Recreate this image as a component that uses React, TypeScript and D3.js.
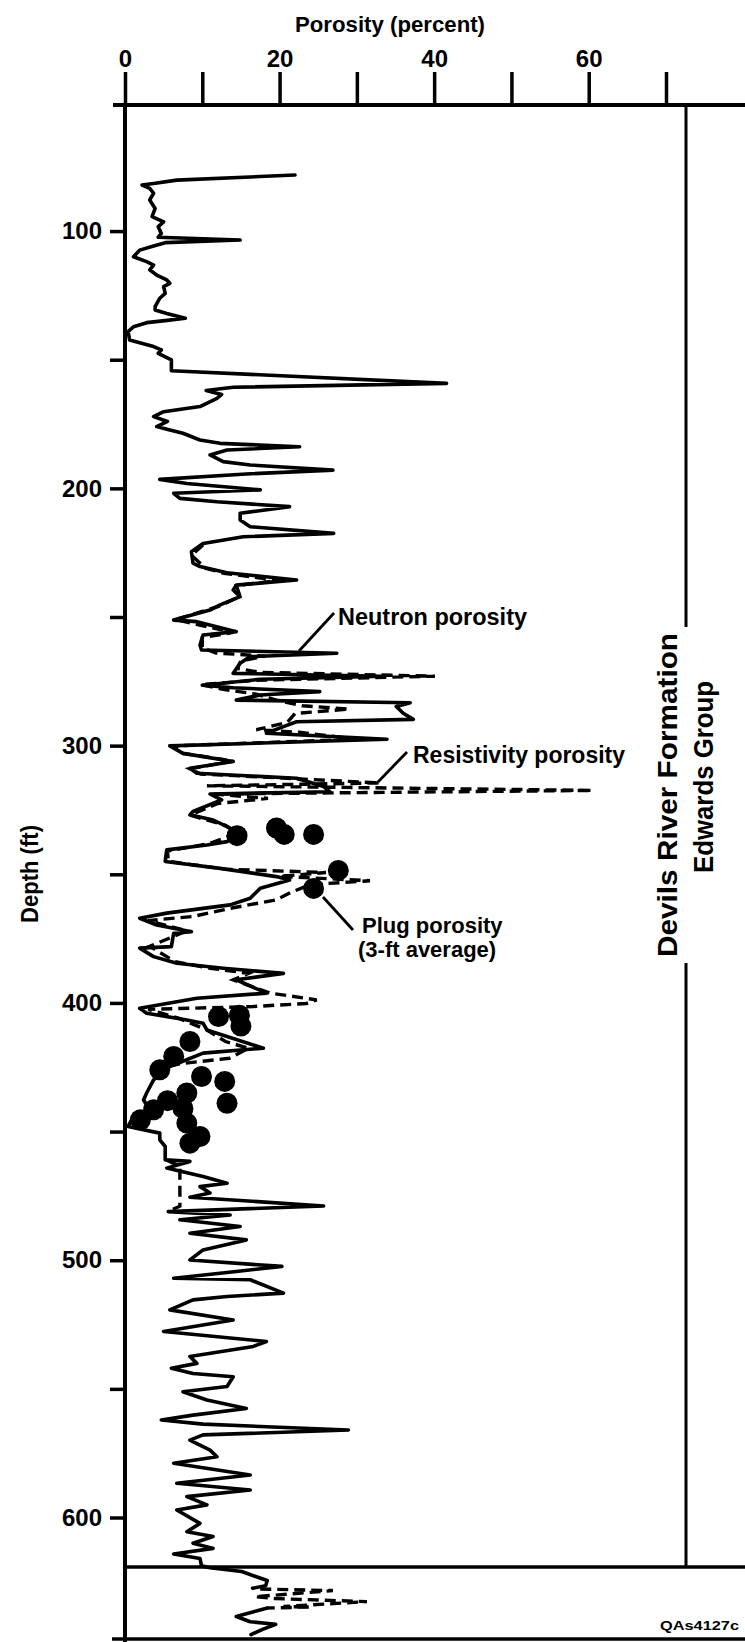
import React, { useEffect, useRef } from 'react';
import * as d3 from 'd3';

// ---- data (depth in ft, porosity in percent) ----
const POROSITY_TICKS = [0, 10, 20, 30, 40, 50, 60, 70];
const POROSITY_LABELS = [0, 20, 40, 60];
const DEPTH_TICKS = [100, 150, 200, 250, 300, 350, 400, 450, 500, 550, 600];
const DEPTH_LABELS = [100, 200, 300, 400, 500, 600];

// Neutron porosity log: [depth, porosity]
const NEUTRON: [number, number][] = [
  [78.2, 22.0], [80.2, 6.7], [81.5, 3.7], [82.1, 2.2], [83.4, 3.2], [85.3, 3.7], [87.9, 3.2], [91.2, 3.9],
  [94.4, 3.5], [96.4, 5.0], [98.3, 4.3], [100.9, 4.7], [102.4, 4.3], [103.5, 14.9], [104.5, 5.2], [105.8, 3.7],
  [107.4, 1.9], [110, 1.1], [111.9, 2.8], [113.2, 3.7], [115.1, 3.2], [117.1, 4.1], [119, 5.4], [120.3, 5.8],
  [121.6, 5.0], [124.2, 5.2], [126.1, 4.5], [129.4, 3.9], [130.7, 3.9], [132, 5.4], [133.9, 7.8], [134.8, 5.2],
  [135.6, 2.8], [137.2, 1.1], [139.1, 0.4], [142.3, 0.6], [143.4, 1.9], [144.9, 3.7], [146.2, 4.7], [147.5, 4.3],
  [150.1, 6.0], [154.3, 6.0], [159.2, 41.6], [160.7, 14.0], [162, 10.5], [163.5, 12.5], [165, 11.9], [168.2, 9.7],
  [170.2, 5.0], [172.1, 3.7], [174, 5.5], [176, 4.1], [177.3, 5.8], [178.6, 7.5], [181.2, 9.7], [182.5, 12.3],
  [183.8, 22.6], [185.1, 13.2], [187, 11.0], [189.6, 12.7], [190.9, 16.2], [192.9, 26.9], [194.4, 15.7], [196.5, 4.5],
  [198.1, 8.0], [200.6, 17.5], [201.9, 6.3], [203.9, 7.1], [205.2, 11.9], [207.1, 21.3], [209.7, 14.9], [212.3, 14.9],
  [214.9, 16.2], [217.5, 27.0], [218.8, 15.3], [221.4, 10.1], [224.6, 8.6], [229.1, 8.8], [230.4, 9.7], [232.8, 13.2],
  [235.6, 22.2], [237.6, 14.4], [239.5, 14.0], [242.1, 14.9], [245.3, 12.3], [247.3, 11.0], [251.2, 6.3], [251.8, 9.3],
  [255.7, 14.4], [257, 10.1], [260.9, 9.7], [262.8, 9.9], [264.1, 27.4], [265.4, 16.2], [268, 14.9], [271.9, 14.0],
  [273, 33.4], [274.2, 17.5], [276.5, 10], [277.5, 14], [279, 25.2], [280.3, 17.5], [282.3, 14.4], [283.3, 36.9],
  [284.8, 35.1], [287.4, 36.0], [289.8, 37.3], [290.7, 22.2], [292.6, 20.5], [295.2, 18.3], [297.5, 33.9], [300.1, 5.8],
  [303, 7.5], [306.2, 14.0], [308.8, 8.4], [310.7, 9.3], [312.7, 22.2], [315.9, 25.7], [317.9, 26.5], [318.8, 11.0],
  [321.1, 12.5], [325.6, 8.8], [326.9, 8.4], [328.9, 11.4], [331.5, 13.2], [334.1, 14.9], [337.3, 13.2], [338.6, 10.6],
  [340.5, 5.4], [345, 5.2], [347.7, 12.3], [350.9, 19.6], [352.2, 21.3], [355.4, 17.5], [359.3, 16.2], [361.9, 13.6],
  [365.1, 5.4], [367.1, 1.9], [369.7, 4.1], [372.3, 8.6], [372.9, 6.3], [378.1, 6.0], [378.7, 1.9], [382, 3.7],
  [384.6, 6.7], [386.5, 12.7], [388.5, 20.5], [391, 14.4], [396.2, 18.3], [398.2, 9.3], [402.1, 1.9], [404, 2.8],
  [406.6, 8.0], [407.9, 10.1], [410.5, 10.6], [417.6, 17.9], [419.5, 10.1], [424.7, 5.8], [429.9, 3.7], [435, 2.8],
  [437.7, 2.4], [441.5, 3.2], [444.1, 1.1], [448, 0.4], [450.6, 4.5], [453.2, 4.5], [455.8, 5.2], [461, 5.2],
  [461.6, 8.4], [464.2, 5.4], [467.5, 10.1], [470.1, 13.2], [471.4, 9.7], [473.9, 11.0], [475.5, 8.4], [478.9, 25.7],
  [481.1, 5.6], [482.4, 13.6], [484.3, 7.1], [486.9, 14.9], [489.5, 8.4], [492.1, 15.7], [496, 10.1], [499.9, 8.4],
  [502.4, 20.3], [504.4, 14.4], [507, 6.3], [507.6, 16.2], [512.8, 20.5], [514.1, 13.2], [515.4, 8.8], [519.3, 5.8],
  [523.2, 14.0], [527.7, 5.0], [531.6, 18.3], [533.5, 16.6], [537.4, 8.4], [540.1, 9.3], [542, 6.0], [544, 8.8],
  [545.3, 14.0], [549.1, 13.2], [551.1, 7.5], [554.3, 10.6], [557.6, 15.7], [560.2, 8.8], [562.1, 4.7], [563.7, 10.1],
  [566, 28.9], [567.9, 10.1], [569.9, 8.4], [573.8, 11.0], [576.4, 11.9], [578.9, 6.3], [583.5, 16.2], [586.7, 6.7],
  [589.3, 16.2], [591.9, 8.0], [595.1, 10.6], [597.1, 6.7], [602.3, 9.7], [605.5, 8.0], [607.4, 11.4], [610, 8.8],
  [612, 11.4], [614.2, 6.3], [615.9, 9.7], [618.8, 9.9], [619.5, 11], [621, 15.1], [623, 17], [624.5, 18.4],
  [626.5, 18.2], [627.5, 16.5],
];

// Neutron porosity below the lower boundary
const NEUTRON_BASE: [number, number][] = [
  [635.3, 18.3], [638.5, 14.4], [640.5, 16.2], [641.5, 19.5], [643.5, 17.8], [645.5, 16.3],
];

// Resistivity porosity log: [depth, porosity]
const RESISTIVITY: [number, number][] = [
  [222, 10.1], [226, 8.6], [231, 10.4], [233, 12.8], [235.8, 20], [237.8, 14.4], [242, 14.9], [246, 12],
  [251, 6.5], [253, 9.5], [256, 14], [258, 10], [262, 10], [264, 11.8], [265.2, 18.2], [267, 15],
  [270, 14.5], [271.5, 17.5], [273, 40.1], [274.6, 17], [276.3, 9.8], [278, 12.5], [280, 17], [282.3, 19.6],
  [284.5, 23], [285.8, 29], [287.5, 22], [291, 21], [293.8, 17], [294.8, 22.5], [297.5, 30], [300.1, 6.2],
  [303, 7.5], [306, 14], [309, 8.4], [311, 9.8], [314.5, 33], [315.6, 10.6], [317.4, 60.5], [318.8, 11.5],
  [320.5, 18.5], [322.5, 12], [327, 8.4], [331, 13], [334, 14.5], [338, 11], [341, 5.5], [345, 5.6],
  [348, 13], [349.3, 26], [350.8, 20], [352.5, 31.7], [354, 24], [357, 21.5], [360, 19.5], [363, 14],
  [366.4, 8.8], [368, 3], [372, 8], [378, 3.2], [384, 6.5], [386.5, 11], [388.5, 16], [391, 14],
  [396.2, 18.8], [398.8, 24.8], [400.2, 23.5], [401.4, 16.6], [402.5, 3], [406, 7], [410.5, 10.6], [415, 13],
  [417.6, 16], [421.5, 13.5], [424, 6],
];

const RESISTIVITY_MID: [number, number][] = [
  [461, 5.4], [463.6, 7.1], [479, 7.1], [481, 5.6],
];

const RESISTIVITY_BASE: [number, number][] = [
  [627.8, 17.5], [628.4, 26.9], [630.8, 16.8], [631.5, 19.4], [632.7, 31.3], [634.6, 20.5], [634.8, 23.9], [635.2, 18.3],
];

// Plug porosity (3-ft average): [depth, porosity]
const PLUG: [number, number][] = [
  [332, 19.6], [334.5, 20.6], [334.5, 24.4], [335, 14.5], [348.5, 27.6], [355.5, 24.4],
  [405.3, 12.1], [404.8, 14.8], [409, 15.0], [415, 8.4], [420.8, 6.3], [426, 4.5],
  [428.6, 9.9], [430.5, 12.9], [439, 13.2], [435, 8.0], [441, 7.5], [441.5, 3.7],
  [445.4, 2.0], [446.7, 8.0], [451.9, 9.7], [454.5, 8.4], [438, 5.5],
];

const FONT = '"Liberation Sans", Arial, Helvetica, sans-serif';

export default function App() {
  const W = 745;
  const H = 1642;
  const x = d3.scaleLinear().domain([0, 70]).range([125, 666]);
  const y = d3.scaleLinear().domain([51, 648]).range([105, 1641]);
  const line = d3
    .line<[number, number]>()
    .x((d) => x(d[1]))
    .y((d) => y(d[0]));

  const topRef = useRef<SVGGElement>(null);
  const leftRef = useRef<SVGGElement>(null);

  useEffect(() => {
    const ta = d3
      .axisTop(x)
      .tickValues(POROSITY_TICKS)
      .tickSize(33)
      .tickSizeOuter(0)
      .tickPadding(5)
      .tickFormat((v: any) => (POROSITY_LABELS.includes(+v) ? String(v) : ''));
    const g = d3.select(topRef.current as SVGGElement).call(ta as any);
    g.select('.domain').remove();
    g.selectAll('line').attr('stroke', '#000').attr('stroke-width', 3.5);
    g.selectAll('text')
      .attr('font-size', 24)
      .attr('font-weight', 'bold')
      .attr('font-family', FONT)
      .attr('fill', '#000');

    const la = d3
      .axisLeft(y)
      .tickValues(DEPTH_TICKS)
      .tickSize(15)
      .tickSizeOuter(0)
      .tickPadding(8)
      .tickFormat((v: any) => (DEPTH_LABELS.includes(+v) ? String(v) : ''));
    const g2 = d3.select(leftRef.current as SVGGElement).call(la as any);
    g2.select('.domain').remove();
    g2.selectAll('line').attr('stroke', '#000').attr('stroke-width', 3.5);
    g2.selectAll('text')
      .attr('font-size', 24)
      .attr('font-weight', 'bold')
      .attr('font-family', FONT)
      .attr('fill', '#000');
  }, []);

  const solid = { fill: 'none', stroke: '#000', strokeWidth: 3.6, strokeLinejoin: 'round' as const, strokeLinecap: 'round' as const };
  const dashed = { fill: 'none', stroke: '#000', strokeWidth: 3.4, strokeDasharray: '11,6' };

  return (
    <svg
      width={W}
      height={H}
      viewBox={`0 0 ${W} ${H}`}
      style={{ position: 'absolute', left: 0, top: 0, display: 'block', background: '#fff' }}
      fontFamily={FONT}
    >
      <rect x={0} y={0} width={W} height={H} fill="#fff" />
      {/* frame */}
      <path d={`M113,105H${W}`} stroke="#000" strokeWidth={4} />
      <path d={`M125,103V${H}`} stroke="#000" strokeWidth={4} />
      <path d="M686,105V627M686,963V1567" stroke="#000" strokeWidth={3} />
      <path d={`M125,1567H${W}`} stroke="#000" strokeWidth={3.5} />
      <path d={`M112,1639H${W}`} stroke="#000" strokeWidth={3.5} />

      <g ref={topRef} transform="translate(0,105)" />
      <g ref={leftRef} transform="translate(125,0)" />

      {/* logs */}
      <path d={line(NEUTRON) || ''} {...solid} />
      <path d={line(NEUTRON_BASE) || ''} {...solid} />
      <path d={line(RESISTIVITY) || ''} {...dashed} />
      <path d={line(RESISTIVITY_MID) || ''} {...dashed} />
      <path d={line(RESISTIVITY_BASE) || ''} {...dashed} />
      {PLUG.map((d, i) => (
        <circle key={i} cx={x(d[1])} cy={y(d[0])} r={10.5} fill="#000" />
      ))}

      {/* titles */}
      <text x={390} y={32} textAnchor="middle" fontSize={22} fontWeight="bold" textLength={190} lengthAdjust="spacingAndGlyphs">
        Porosity (percent)
      </text>
      <text transform="translate(38,874) rotate(-90)" textAnchor="middle" fontSize={23} fontWeight="bold" textLength={98} lengthAdjust="spacingAndGlyphs">
        Depth (ft)
      </text>
      <text transform="translate(677,795) rotate(-90)" textAnchor="middle" fontSize={28} fontWeight="bold" textLength={324} lengthAdjust="spacingAndGlyphs">
        Devils River Formation
      </text>
      <text transform="translate(713,777) rotate(-90)" textAnchor="middle" fontSize={28} fontWeight="bold" textLength={192} lengthAdjust="spacingAndGlyphs">
        Edwards Group
      </text>

      {/* annotations */}
      <path d="M334,613L299,651" stroke="#000" strokeWidth={2.8} />
      <text x={338} y={625} fontSize={23} fontWeight="bold" textLength={189} lengthAdjust="spacingAndGlyphs">
        Neutron porosity
      </text>
      <path d="M407,752L377,783" stroke="#000" strokeWidth={2.8} />
      <text x={413} y={763} fontSize={23} fontWeight="bold" textLength={212} lengthAdjust="spacingAndGlyphs">
        Resistivity porosity
      </text>
      <path d="M323,897L353,930" stroke="#000" strokeWidth={2.8} />
      <text x={362} y={933} fontSize={22} fontWeight="bold">
        Plug porosity
      </text>
      <text x={358} y={957} fontSize={22} fontWeight="bold">
        (3-ft average)
      </text>
      <text x={739} y={1630} textAnchor="end" fontSize={13} fontWeight="bold" textLength={79} lengthAdjust="spacingAndGlyphs">
        QAs4127c
      </text>
    </svg>
  );
}
